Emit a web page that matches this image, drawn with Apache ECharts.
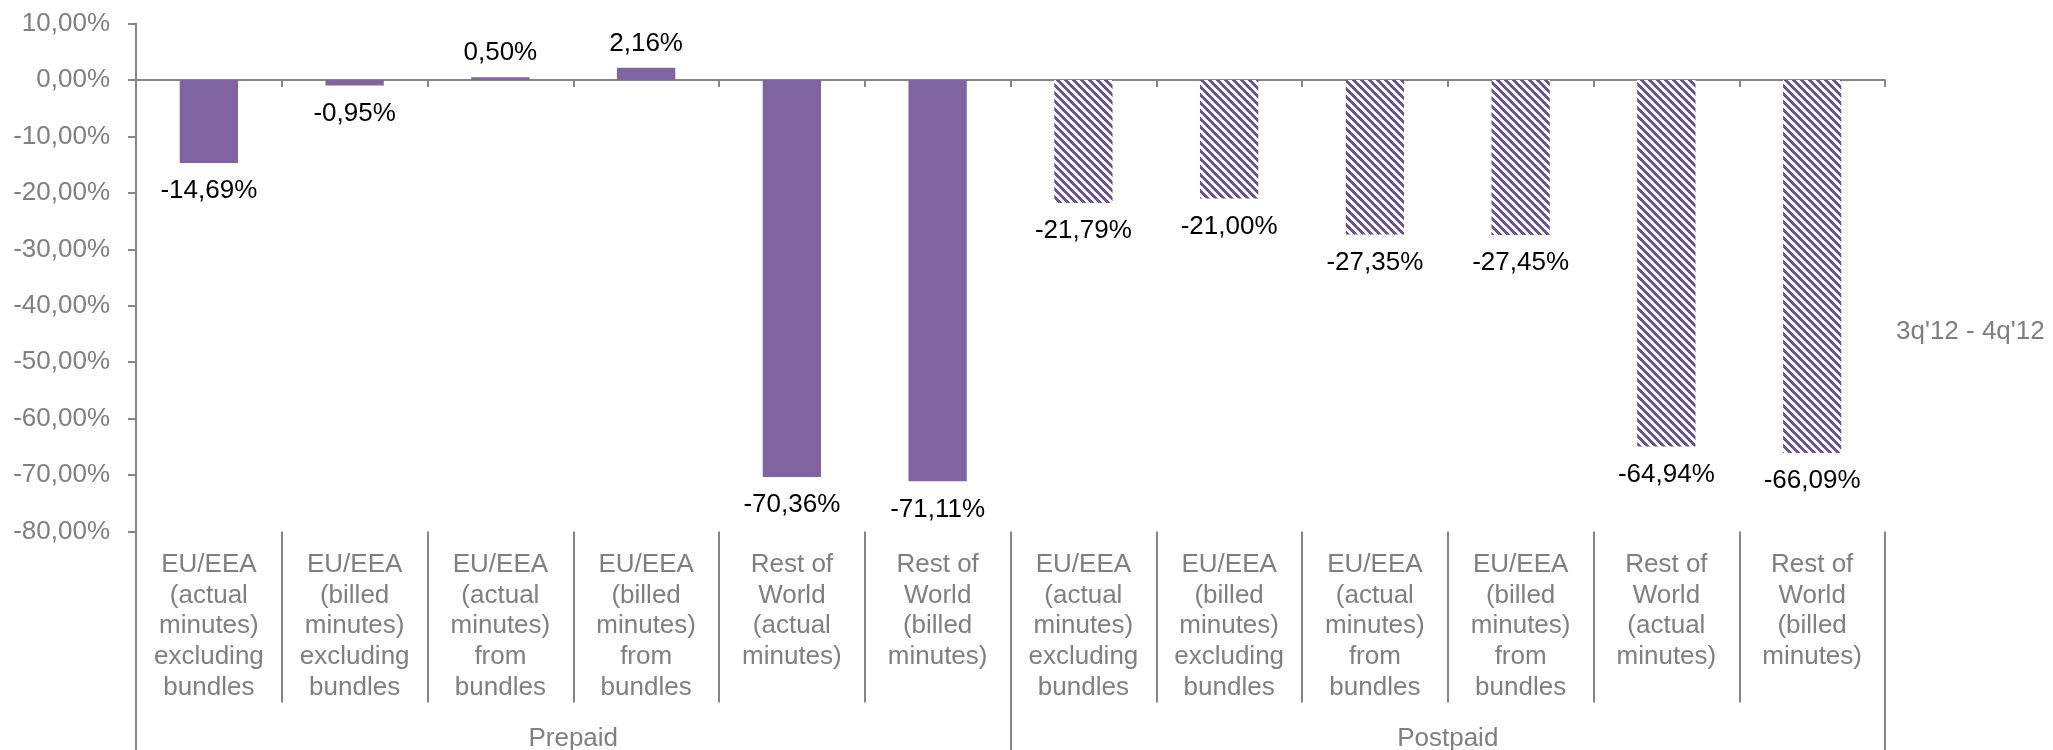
<!DOCTYPE html>
<html>
<head>
<meta charset="utf-8">
<script src="https://cdn.jsdelivr.net/npm/echarts@6/dist/echarts.min.js"></script>
<style>
html,body{margin:0;padding:0;background:#fff;}
#chart{width:2053px;height:750px;}
</style>
</head>
<body>
<div id="chart"></div>
<script>
// ---- data ----
const subCategories = [
  "EU/EEA\n(actual\nminutes)\nexcluding\nbundles",
  "EU/EEA\n(billed\nminutes)\nexcluding\nbundles",
  "EU/EEA\n(actual\nminutes)\nfrom\nbundles",
  "EU/EEA\n(billed\nminutes)\nfrom\nbundles",
  "Rest of\nWorld\n(actual\nminutes)",
  "Rest of\nWorld\n(billed\nminutes)"
];
const groups = ["Prepaid", "Postpaid"];
const prepaidValues = [-14.69, -0.95, 0.50, 2.16, -70.36, -71.11];
const postpaidValues = [-21.79, -21.00, -27.35, -27.45, -64.94, -66.09];
const seriesName = "3q'12 - 4q'12";
const yTicks = [-80, -70, -60, -50, -40, -30, -20, -10, 0, 10];

// ---- build ----
const categories = subCategories.concat(subCategories);
const values = prepaidValues.concat(postpaidValues);

const purple = '#8064A2';
function makeHatch() {
  const s = 8;
  const c = document.createElement('canvas');
  c.width = s; c.height = s;
  const ctx = c.getContext('2d');
  ctx.fillStyle = '#ffffff';
  ctx.fillRect(0, 0, s, s);
  ctx.fillStyle = '#6A5494';
  for (let y = 0; y < s; y++) {
    for (let x = 0; x < s; x++) {
      if (((x - y) % s + s) % s < 4) ctx.fillRect(x, y, 1, 1);
    }
  }
  return c;
}
const hatch = { image: makeHatch(), repeat: 'repeat' };

const fmt = v => v.toFixed(2).replace('.', ',') + '%';
const gray = '#7F7F7F';
const lineGray = '#868686';
const font = "'Liberation Sans', Arial, sans-serif";

const barData = values.map((v, i) => ({
  value: v,
  itemStyle: { color: i < prepaidValues.length ? purple : hatch },
  label: { position: v >= 0 ? 'top' : 'bottom', distance: v >= 0 ? 11 : 15 }
}));

const chart = echarts.init(document.getElementById('chart'), null, { renderer: 'canvas' });
chart.setOption({
  animation: false,
  backgroundColor: '#ffffff',
  textStyle: { fontFamily: font },
  grid: { left: 136, right: 168, top: 23.6, bottom: 218.5, containLabel: false, outerBoundsMode: 'none' },
  legend: {
    left: 1886, top: 314,
    itemWidth: 0, itemHeight: 0, itemGap: 0,
    data: [{ name: seriesName, icon: 'rect' }],
    textStyle: { fontSize: 26, color: gray, fontFamily: font }
  },
  xAxis: [
    {
      type: 'category', data: categories, position: 'bottom',
      axisLine: { show: true, onZero: true, lineStyle: { color: lineGray, width: 2 } },
      axisTick: { show: true, length: 7, interval: 0, lineStyle: { color: lineGray, width: 2 } },
      axisLabel: { show: false }
    },
    {
      type: 'category', data: categories, position: 'bottom',
      axisLine: { show: false, onZero: false },
      axisTick: { show: true, length: 171, interval: 0, lineStyle: { color: lineGray, width: 2 } },
      axisLabel: { show: true, interval: 0, margin: 18, fontSize: 26, lineHeight: 30.7, color: gray, fontFamily: font, align: 'center' }
    },
    {
      type: 'category', data: groups, position: 'bottom',
      axisLine: { show: false, onZero: false },
      axisTick: { show: true, length: 220, interval: 0, lineStyle: { color: lineGray, width: 2 } },
      axisLabel: { show: true, interval: 0, margin: 192, fontSize: 26, lineHeight: 30, color: gray, fontFamily: font }
    }
  ],
  yAxis: {
    type: 'value', min: yTicks[0], max: yTicks[yTicks.length - 1], interval: 10,
    axisLine: { show: true, lineStyle: { color: lineGray, width: 2 } },
    axisTick: { show: true, length: 8, lineStyle: { color: lineGray, width: 2 } },
    splitLine: { show: false },
    axisLabel: { formatter: fmt, fontSize: 26, color: gray, margin: 26, fontFamily: font }
  },
  series: [{
    name: seriesName,
    type: 'bar',
    xAxisIndex: 0,
    barWidth: '40%',
    data: barData,
    label: {
      show: true, fontSize: 26, color: '#000000', fontFamily: font,
      formatter: p => fmt(p.value)
    }
  }]
});
</script>
</body>
</html>
